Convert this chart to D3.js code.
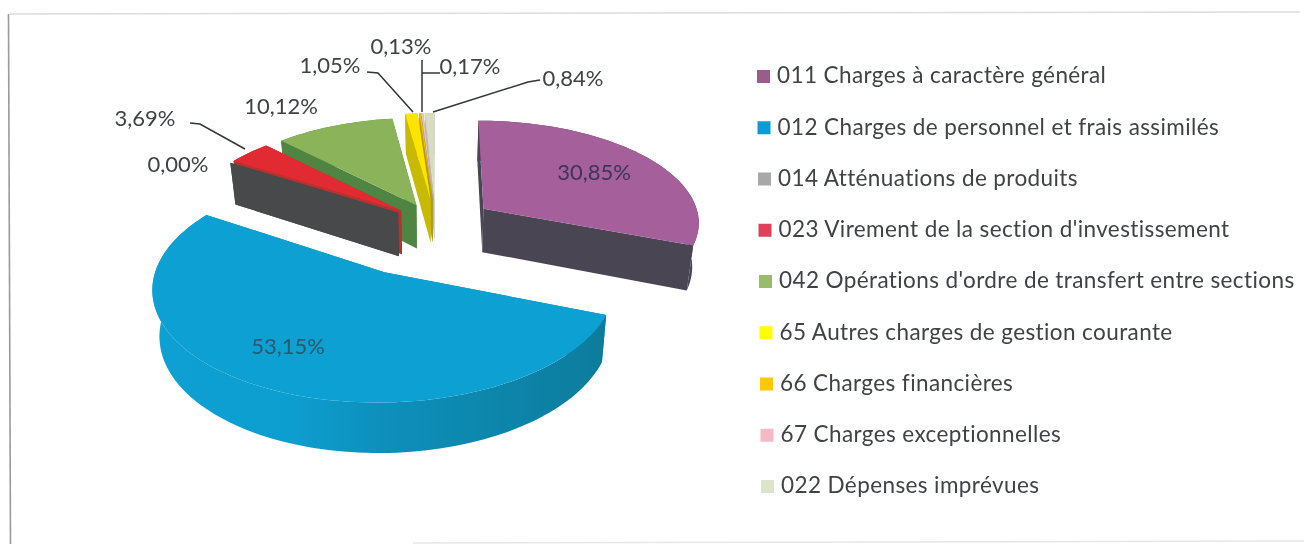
<!DOCTYPE html>
<html>
<head>
<meta charset="utf-8">
<title>Charges</title>
<script src="https://cdn.jsdelivr.net/npm/d3@7"></script>
<style>
	html, body { margin: 0; padding: 0; background: #fff; }
	svg { display: block; }
	text { font-family: Lato, "Open Sans", sans-serif; fill: #3f4245; }
</style>
</head>
<body>
<svg id="chart"></svg>
<script>
// data
const categories = [
	"011 Charges à caractère général",
	"012 Charges de personnel et frais assimilés",
	"014 Atténuations de produits",
	"023 Virement de la section d'investissement",
	"042 Opérations d'ordre de transfert entre sections",
	"65 Autres charges de gestion courante",
	"66 Charges financières",
	"67 Charges exceptionnelles",
	"022 Dépenses imprévues"
];
const values = [30.85, 53.15, 0.00, 3.69, 10.12, 1.05, 0.13, 0.17, 0.84];

// styles, one per category
const topColors = ["#a5609c", "#0aa0d2", "#8c8c8c", "#e22a30", "#8ab35a", "#ffe400", "#f2c200", "#e8c0c8", "#d9dcc4"];
const wallColors = ["#4a4552", "#0b86ab", "#46494b", "#b5322f", "#4f8442", "#c8ba00", "#b89a10", "#9a90a0", "#bcbca8"];
const legendColors = ["#9a5c8c", "#0f9bd7", "#a8a8a8", "#e0405a", "#9bbb6c", "#ffff00", "#ffc800", "#f6b9c6", "#dde4cc"];
const explode = [0.27, 0.5, 0.21, 0.21, 0.21, 0.25, 0.25, 0.25, 0.25];
const drawOrder = [8, 7, 6, 5, 4, 3, 2, 0, 1];

// where the data labels sit, only 011 and 012 are on the slices
const labelX = [594, 288, 178, 145, 281, 330, 401, 470, 573];
const labelY = [172, 346, 164, 118, 106, 65, 46, 66, 78];
const labelColors = ["#3a3658", "#2a5a72", "#3f4245", "#3f4245", "#3f4245", "#3f4245", "#3f4245", "#3f4245", "#3f4245"];

// leader lines: label side first, the last point is on the slice
const leaders = [
	[[190, 123], [200, 124], [245, 149]],
	[[367, 72], [378, 73], [413, 112]],
	[[422, 60], [422, 112]],
	[[440, 73], [422, 73]],
	[[540, 80], [528, 82], [433, 112]]
];

const w = 1304, h = 544;

// pie geometry, seen in perspective
const cx = 436, cy = 224;
const R = 217, Ry = 102;
const persp = 0.12, depth = 44, bottomShrink = 0.975;

const chart = d3.select("#chart").attr("width", w).attr("height", h);

const defs = chart.append("defs");
defs.append("filter").attr("id", "soft")
	.append("feGaussianBlur").attr("stdDeviation", 0.35);

// the front wall of 012 melts into the top on the left, gets darker to the right
const blueWall = defs.append("linearGradient").attr("id", "blueWall")
	.attr("gradientUnits", "userSpaceOnUse")
	.attr("x1", 153).attr("x2", 606).attr("y1", 0).attr("y2", 0);
blueWall.append("stop").attr("offset", "0%").attr("stop-color", "#0aa0d2");
blueWall.append("stop").attr("offset", "30%").attr("stop-color", "#0a9ed0");
blueWall.append("stop").attr("offset", "50%").attr("stop-color", "#0a90bc");
blueWall.append("stop").attr("offset", "100%").attr("stop-color", "#0b7c9c");

const root = chart.append("g").attr("filter", "url(#soft)");

// scanned page frame
const frame = root.append("g").attr("fill", "none");
frame.append("path").attr("d", d3.line()([[8.5, 14], [10.5, 544]])).attr("stroke", "#9a9a9a").attr("stroke-width", 1.6);
frame.append("path").attr("d", d3.line()([[10, 14], [1300, 12]])).attr("stroke", "#dcdcdc").attr("stroke-width", 1.5);
frame.append("path").attr("d", d3.line()([[413, 543], [1304, 541]])).attr("stroke", "#e6e6e6").attr("stroke-width", 1.5);

const pie = d3.pie().value(d => d).sort(null);
const slices = pie(values);

function project(u, v, z) {
	const s = 1 / (1 - persp * v);
	const shrink = z ? bottomShrink : 1;
	return [cx + R * u * s * shrink, cy + Ry * v * s + z * depth * (1 + (s - 1) * 0.7)];
}

function slicePoint(d, i, a, r, z) {
	const mid = (d.startAngle + d.endAngle) / 2;
	const u = explode[i] * Math.sin(mid) + r * Math.sin(a);
	const v = -explode[i] * Math.cos(mid) - r * Math.cos(a);
	return project(u, v, z);
}

function arcAngles(d) {
	const n = Math.max(2, Math.ceil((d.endAngle - d.startAngle) / 0.03));
	return d3.range(n + 1).map(k => d.startAngle + (d.endAngle - d.startAngle) * k / n);
}

const line = d3.line();

drawOrder.forEach(i => {
	const d = slices[i];
	const g = root.append("g").attr("class", "slice");
	const wall = i === 1 ? "url(#blueWall)" : wallColors[i];

	// the two flat walls
	[d.startAngle, d.endAngle].forEach(a => {
		g.append("path")
			.attr("d", line([
				slicePoint(d, i, a, 0, 0), slicePoint(d, i, a, 1, 0),
				slicePoint(d, i, a, 1, 1), slicePoint(d, i, a, 0, 1)
			]) + "Z")
			.attr("fill", wallColors[i]);
	});

	if (d.endAngle === d.startAngle) return;

	// outer wall
	const angles = arcAngles(d);
	g.append("path")
		.attr("d", line(
			angles.map(a => slicePoint(d, i, a, 1, 0))
				.concat(angles.slice().reverse().map(a => slicePoint(d, i, a, 1, 1)))
		) + "Z")
		.attr("fill", wall);

	// top
	g.append("path")
		.attr("d", line(
			[slicePoint(d, i, d.startAngle, 0, 0)].concat(angles.map(a => slicePoint(d, i, a, 1, 0)))
		) + "Z")
		.attr("fill", topColors[i]);
});

// leader lines
root.append("g").selectAll("path")
	.data(leaders)
	.join("path")
	.attr("d", d => line(d))
	.attr("fill", "none")
	.attr("stroke", "#33363a")
	.attr("stroke-width", 1.5);

// data labels
const pct = d3.formatLocale({ decimal: ",", thousands: " ", grouping: [3], currency: ["", " €"] }).format(".2f");

root.append("g").selectAll("text")
	.data(values)
	.join("text")
	.attr("x", (d, i) => labelX[i])
	.attr("y", (d, i) => labelY[i])
	.attr("dy", "0.35em")
	.attr("text-anchor", "middle")
	.style("font-size", "22px")
	.style("fill", (d, i) => labelColors[i])
	.text(d => pct(d) + "%");

// legend, the scan drifts a little to the right going down
const legendY = d3.scalePoint().domain(categories).range([76.5, 486.5]);
const legendX = d3.scaleLinear().domain([76.5, 486.5]).range([757, 761]);

const legend = root.append("g").selectAll("g")
	.data(categories)
	.join("g")
	.attr("transform", d => `translate(${legendX(legendY(d))},${legendY(d)})`);

legend.append("rect")
	.attr("x", 0).attr("y", -6.5)
	.attr("width", 13).attr("height", 13)
	.attr("fill", (d, i) => legendColors[i]);

legend.append("text")
	.attr("x", 20)
	.attr("y", -1)
	.attr("dy", "0.35em")
	.style("font-size", "22.5px")
	.style("letter-spacing", "0.4px")
	.text(d => d);
</script>
</body>
</html>
